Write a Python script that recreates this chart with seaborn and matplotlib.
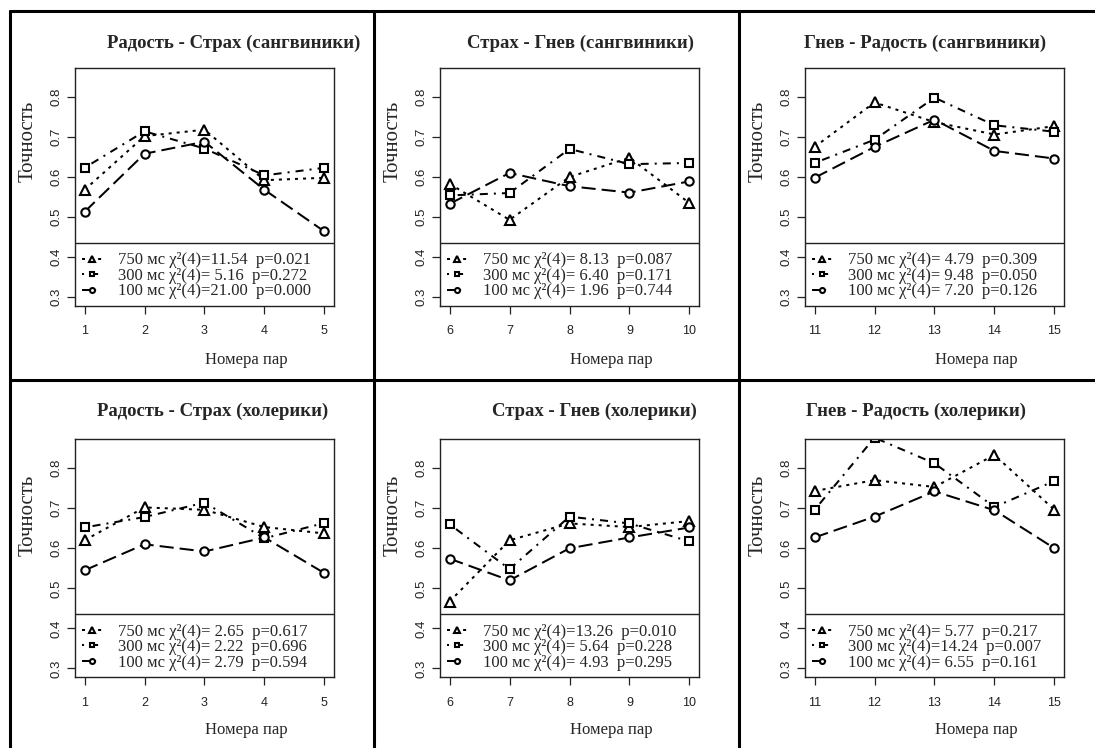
import numpy as np
import pandas as pd
import matplotlib
matplotlib.use("Agg")
import matplotlib.pyplot as plt
from matplotlib.lines import Line2D
import seaborn as sns

# ---------------- data ----------------
titles = ["Радость - Страх (сангвиники)", "Страх - Гнев (сангвиники)", "Гнев - Радость (сангвиники)",
          "Радость - Страх (холерики)", "Страх - Гнев (холерики)", "Гнев - Радость (холерики)"]
pairs = [[1, 2, 3, 4, 5], [6, 7, 8, 9, 10], [11, 12, 13, 14, 15]]
series_names = ["750 мс", "300 мс", "100 мс"]

p1_750 = [0.568, 0.702, 0.718, 0.592, 0.598]
p1_300 = [0.623, 0.714, 0.671, 0.604, 0.623]
p1_100 = [0.513, 0.658, 0.688, 0.568, 0.464]

p2_750 = [0.583, 0.493, 0.600, 0.648, 0.535]
p2_300 = [0.554, 0.560, 0.670, 0.632, 0.635]
p2_100 = [0.533, 0.610, 0.577, 0.561, 0.589]

p3_750 = [0.675, 0.786, 0.737, 0.706, 0.727]
p3_300 = [0.635, 0.693, 0.798, 0.729, 0.713]
p3_100 = [0.598, 0.675, 0.743, 0.665, 0.646]

p4_750 = [0.620, 0.702, 0.696, 0.653, 0.637]
p4_300 = [0.652, 0.678, 0.714, 0.625, 0.663]
p4_100 = [0.545, 0.610, 0.592, 0.627, 0.538]

p5_750 = [0.467, 0.620, 0.662, 0.653, 0.668]
p5_300 = [0.660, 0.548, 0.679, 0.662, 0.617]
p5_100 = [0.574, 0.520, 0.600, 0.627, 0.652]

p6_750 = [0.743, 0.770, 0.753, 0.833, 0.696]
p6_300 = [0.696, 0.876, 0.812, 0.703, 0.768]
p6_100 = [0.627, 0.679, 0.742, 0.695, 0.600]

chi_1 = [11.54, 5.16, 21.00]; pval_1 = [0.021, 0.272, 0.000]
chi_2 = [8.13, 6.40, 1.96];   pval_2 = [0.087, 0.171, 0.744]
chi_3 = [4.79, 9.48, 7.20];   pval_3 = [0.309, 0.050, 0.126]
chi_4 = [2.65, 2.22, 2.79];   pval_4 = [0.617, 0.696, 0.594]
chi_5 = [13.26, 5.64, 4.93];  pval_5 = [0.010, 0.228, 0.295]
chi_6 = [5.77, 14.24, 6.55];  pval_6 = [0.217, 0.007, 0.161]

yticks = [0.3, 0.4, 0.5, 0.6, 0.7, 0.8]

panel_values = [
    (p1_750, p1_300, p1_100), (p2_750, p2_300, p2_100), (p3_750, p3_300, p3_100),
    (p4_750, p4_300, p4_100), (p5_750, p5_300, p5_100), (p6_750, p6_300, p6_100),
]
panel_chi = [chi_1, chi_2, chi_3, chi_4, chi_5, chi_6]
panel_p = [pval_1, pval_2, pval_3, pval_4, pval_5, pval_6]

# ---------------- style ----------------
sns.set_style("white")
plt.rcParams['font.family'] = ['Liberation Serif', 'DejaVu Serif']
SANS = ['Liberation Sans', 'DejaVu Sans']

W, H = 1095, 748
fig = plt.figure(figsize=(W / 100, H / 100), dpi=100)

markers = ['^', 's', 'o']
msizes = [7.5, 6.0, 6.0]
lstyles = [(0, (1.5, 2.5)), (0, (1, 3, 4, 3)), (0, (7, 3))]
LW = 1.45

col_left = [75, 440, 805]
row_top = [68, 439.3]
ax_w, ax_h = 259, 238

title_x = [0.614, 0.544, 0.463, 0.53, 0.598, 0.43]
title_y = [1.105, 1.105, 1.105, 1.119, 1.119, 1.119]
ylab_y = [0.69, 0.69, 0.69, 0.682, 0.682, 0.682]
xlab_y = [-0.227, -0.227, -0.227, -0.22, -0.22, -0.22]

for i in range(6):
    r, c = divmod(i, 3)
    left = col_left[c]
    top = row_top[r]
    ax = fig.add_axes([left / W, (H - top - ax_h) / H, ax_w / W, ax_h / H])
    xs = pairs[c]
    for k in range(3):
        df = pd.DataFrame({"pair": xs, "acc": panel_values[i][k]})
        lab = "%s χ²(4)=%5.2f  p=%.3f" % (series_names[k], panel_chi[i][k], panel_p[i][k])
        sns.lineplot(data=df, x="pair", y="acc", ax=ax, color="black",
                     marker=markers[k], markersize=msizes[k],
                     markerfacecolor="white", markeredgecolor="black",
                     markeredgewidth=1.5, linewidth=LW, linestyle=lstyles[k],
                     label=lab, legend=False)
    ax.set_xlim(xs[0] - 0.16, xs[-1] + 0.16)
    ax.set_ylim(0.278, 0.872)
    ax.set_xticks(xs)
    ax.set_xticklabels([str(v) for v in xs], fontfamily=SANS, fontsize=9)
    ax.set_yticks(yticks)
    ax.set_yticklabels(["%.1f" % v for v in yticks], fontfamily=SANS, fontsize=9.5,
                       rotation=90, va='center')
    ax.tick_params(axis='x', direction='out', length=6, width=0.9, pad=8, colors='#222222')
    ax.tick_params(axis='y', direction='out', length=6, width=0.9, pad=3, colors='#222222')
    ax.tick_params(left=True, bottom=True)
    for sp in ax.spines.values():
        sp.set_color('#222222')
        sp.set_linewidth(1.0)
    ax.set_xlabel("Номера пар", fontsize=12, va='center')
    ax.xaxis.set_label_coords(0.66, xlab_y[i])
    ax.set_ylabel("Точность", fontsize=15, va='center')
    ax.yaxis.set_label_coords(-0.181, ylab_y[i])
    ax.set_title(titles[i], fontsize=13.5, fontweight='bold', x=title_x[i], y=title_y[i],
                 va='center', pad=0)
    # legend box top border
    ax.axhline(0.436, color='#222222', linewidth=1.0)
    handles, labels = ax.get_legend_handles_labels()
    leg = ax.legend(handles, labels, loc='lower left', bbox_to_anchor=(0.0, 0.0),
                    frameon=False, fontsize=12, markerscale=0.6, handlelength=1.2,
                    handletextpad=1.0, labelspacing=-0.03, borderaxespad=0.0,
                    borderpad=0.4)

# table borders
def fline(x0, y0, x1, y1):
    fig.add_artist(Line2D([x0 / W, x1 / W], [1 - y0 / H, 1 - y1 / H], color='black',
                          linewidth=2.2, transform=fig.transFigure))

fline(9.5, 10.7, W, 10.7)
fline(9.5, 10.7, 9.5, H)
fline(374, 10.7, 374, H)
fline(739, 10.7, 739, H)
fline(9.5, 380.3, W, 380.3)

fig.savefig("out.png", dpi=100)
